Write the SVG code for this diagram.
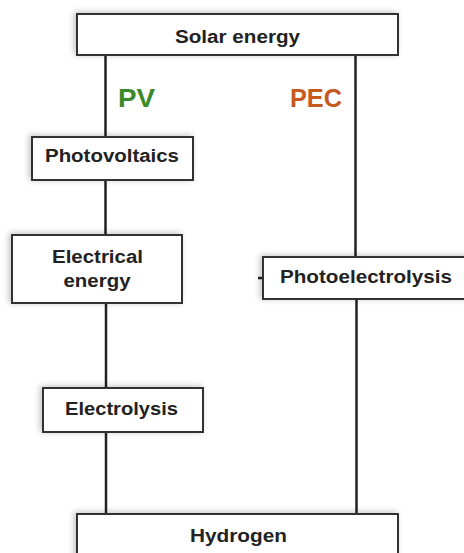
<svg xmlns="http://www.w3.org/2000/svg" width="464" height="553" viewBox="0 0 464 553">
<defs>
<filter id="sh" x="-10%" y="-20%" width="120%" height="150%">
<feGaussianBlur in="SourceAlpha" stdDeviation="3"/>
<feOffset dx="-2" dy="-1" result="b"/>
<feComponentTransfer><feFuncA type="linear" slope="0.25"/></feComponentTransfer>
<feMerge><feMergeNode/><feMergeNode in="SourceGraphic"/></feMerge>
</filter>
</defs>
<style>
.box{fill:#fff;stroke:#333;stroke-width:2;filter:url(#sh)}
.t{font-family:"Liberation Sans",Arial,sans-serif;font-weight:bold;font-size:18px;fill:#222;text-anchor:middle}
.lbl{font-family:"Liberation Sans",Arial,sans-serif;font-weight:bold;font-size:25px}
.c{stroke:#222;stroke-width:2.5;fill:none}
</style>
<rect width="464" height="553" fill="#fff"/>
<g id="connectors">
<line class="c" x1="105.5" y1="55" x2="105.5" y2="137"/>
<line class="c" x1="105.5" y1="180" x2="105.5" y2="235"/>
<line class="c" x1="106" y1="303" x2="106" y2="388"/>
<line class="c" x1="106" y1="432" x2="106" y2="514"/>
<line class="c" x1="355.5" y1="55" x2="355.5" y2="257"/>
<line class="c" x1="356.5" y1="299" x2="356.5" y2="514"/>
<line class="c" x1="258" y1="278" x2="263" y2="278" stroke-width="1.5"/>
</g>
<g id="solar">
<rect class="box" x="77" y="14" width="321" height="41"/>
<text class="t" x="237.5" y="43" textLength="125" lengthAdjust="spacingAndGlyphs">Solar energy</text>
</g>
<g id="labels">
<text class="lbl" x="118" y="107" fill="#3a8a2a" textLength="37" lengthAdjust="spacingAndGlyphs">PV</text>
<text class="lbl" x="290" y="107" fill="#c55a1e" textLength="52" lengthAdjust="spacingAndGlyphs">PEC</text>
</g>
<g id="photovoltaics">
<rect class="box" x="32" y="137" width="161" height="43"/>
<text class="t" x="112" y="162" textLength="134" lengthAdjust="spacingAndGlyphs">Photovoltaics</text>
</g>
<g id="electrical">
<rect class="box" x="12" y="235" width="170" height="68"/>
<text class="t" x="97.5" y="263" textLength="91" lengthAdjust="spacingAndGlyphs">Electrical</text>
<text class="t" x="97" y="287" textLength="67" lengthAdjust="spacingAndGlyphs">energy</text>
</g>
<g id="photoelectrolysis">
<rect class="box" x="263" y="257" width="210" height="42"/>
<text class="t" x="366" y="283" textLength="172" lengthAdjust="spacingAndGlyphs">Photoelectrolysis</text>
</g>
<g id="electrolysis">
<rect class="box" x="43" y="388" width="160" height="44"/>
<text class="t" x="121.5" y="415" textLength="113" lengthAdjust="spacingAndGlyphs">Electrolysis</text>
</g>
<g id="hydrogen">
<rect class="box" x="77" y="514" width="321" height="50"/>
<text class="t" x="238.5" y="542" textLength="97" lengthAdjust="spacingAndGlyphs">Hydrogen</text>
</g>
</svg>
